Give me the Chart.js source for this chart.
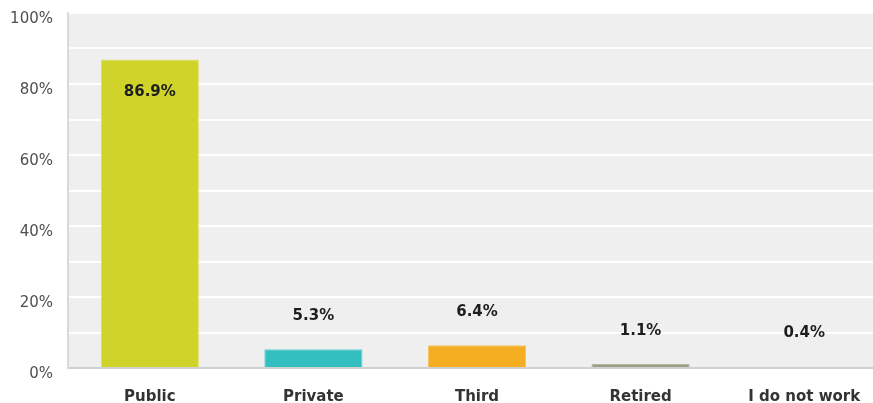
<!DOCTYPE html>
<html>
<head>
<meta charset="utf-8">
<script src="https://cdn.jsdelivr.net/npm/chart.js@4.4.0/dist/chart.umd.min.js"></script>
<style>
  html, body { margin: 0; padding: 0; background: #fff; overflow: hidden; }
  #wrap { width: 886px; height: 403px; position: relative; }
</style>
</head>
<body>
<div id="wrap"><canvas id="chart"></canvas></div>
<script>
// data
const categories = ["Public", "Private", "Third", "Retired", "I do not work"];
const shares = [86.9, 5.3, 6.4, 1.1, 0.4];
const barColors = ["#d0d42a", "#33bfbf", "#f5ae22", "#9c9e88", "#dcdcdc"];
const barEdges = ["#dadd62", "#66cfcf", "#f8c25a", "#b3b4a3", "#e4e4e4"];
const yTickLabels = { 0: "0%", 20: "20%", 40: "40%", 60: "60%", 80: "80%", 100: "100%" };

const FONT = "'DejaVu Sans', Verdana, sans-serif";

// grey plot background
const plotBg = {
  id: "plotBg",
  beforeDraw(chart) {
    const a = chart.chartArea;
    const ctx = chart.ctx;
    ctx.save();
    ctx.fillStyle = "#efefef";
    ctx.fillRect(a.left, a.top, a.right - a.left, a.bottom - a.top);
    ctx.restore();
  }
};

// value labels: inside the tall bar, above the short ones
const valueLabels = {
  id: "valueLabels",
  afterDatasetsDraw(chart) {
    const ctx = chart.ctx;
    const meta = chart.getDatasetMeta(0);
    ctx.save();
    ctx.font = "bold 15px " + FONT;
    ctx.fillStyle = "#1e1e1e";
    ctx.textAlign = "center";
    ctx.textBaseline = "middle";
    meta.data.forEach((bar, i) => {
      const v = shares[i];
      const y = v > 50 ? bar.y + 33 : bar.y - 33;
      ctx.fillText(v.toFixed(1) + "%", bar.x, y);
    });
    ctx.restore();
  }
};

new Chart(document.getElementById("chart"), {
  type: "bar",
  data: {
    labels: categories,
    datasets: [{
      data: shares,
      backgroundColor: barColors,
      borderColor: barEdges,
      borderWidth: 1,
      barPercentage: 0.6,
      categoryPercentage: 1.0
    }]
  },
  options: {
    animation: false,
    responsive: true,
    maintainAspectRatio: false,
    layout: { padding: { top: 13, right: 0, left: 0, bottom: 0 } },
    plugins: {
      legend: { display: false },
      tooltip: { enabled: false }
    },
    scales: {
      x: {
        grid: { display: false, drawTicks: false },
        border: { color: "#d0d0d0", width: 2 },
        ticks: {
          color: "#333",
          font: { family: FONT, size: 15, weight: "bold" },
          padding: 20,
          maxRotation: 0,
          autoSkip: false
        },
        afterFit(scale) {
          scale.height = 35;
          scale.paddingLeft = 0;
          scale.paddingRight = 0;
        }
      },
      y: {
        min: 0,
        max: 100,
        grid: { color: "#ffffff", lineWidth: 2, drawTicks: false },
        border: { color: "#dadada", width: 2 },
        ticks: {
          stepSize: 10,
          color: "#4f4f4f",
          font: { family: FONT, size: 15 },
          padding: 15,
          labelOffset: 6,
          callback: v => yTickLabels[v] || ""
        },
        afterFit(scale) {
          scale.width = 68;
          scale.paddingTop = 0;
          scale.paddingBottom = 0;
        }
      }
    }
  },
  plugins: [plotBg, valueLabels]
});
</script>
</body>
</html>
